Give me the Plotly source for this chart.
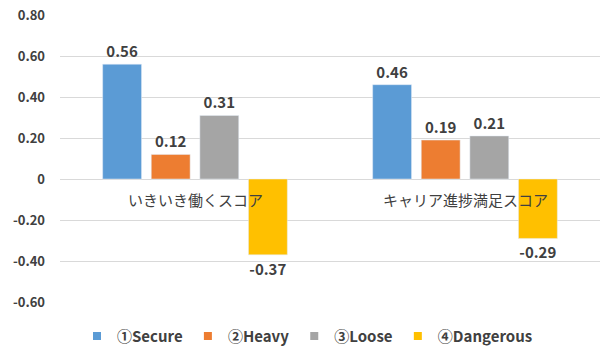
import plotly.graph_objects as go

categories = ["いきいき働くスコア", "キャリア進捗満足スコア"]
series_names = ["①Secure", "②Heavy", "③Loose", "④Dangerous"]
series_values = [
    [0.56, 0.46],
    [0.12, 0.19],
    [0.31, 0.21],
    [-0.37, -0.29],
]
colors = ["#5B9BD5", "#ED7D31", "#A5A5A5", "#FFC000"]
tick_vals = [-0.6, -0.4, -0.2, 0, 0.2, 0.4, 0.6, 0.8]
tick_text = ["-0.60", "-0.40", "-0.20", "0", "0.20", "0.40", "0.60", "0.80"]

FONT = "Noto Sans CJK JP"
TXT = "#404040"

fig = go.Figure()
for name, vals, col in zip(series_names, series_values, colors):
    fig.add_trace(go.Bar(
        x=categories, y=vals, name=name, marker_color=col, showlegend=False,
        legendgroup=name,
        text=[f"{v:.2f}" for v in vals], textposition="outside",
        textfont=dict(family=FONT, size=15, color=TXT),
        texttemplate="<b>%{text}</b>", cliponaxis=False,
    ))
for name, col in zip(series_names, colors):
    fig.add_trace(go.Scatter(
        x=[None], y=[None], mode="markers", name=f"<b>{name}</b>", legendgroup=name,
        marker=dict(symbol="square", size=8, color=col),
    ))

for c in categories:
    fig.add_annotation(x=c, y=0, xref="x", yref="y", text=c, showarrow=False,
                       yanchor="top", yshift=-8,
                       font=dict(family=FONT, size=15, color=TXT))

fig.update_layout(
    width=615, height=352,
    margin=dict(l=60, r=15, t=15, b=50),
    paper_bgcolor="white", plot_bgcolor="white",
    barmode="group", bargap=0.28, bargroupgap=0.2,
    font=dict(family=FONT, color=TXT),
    legend=dict(orientation="h", x=0.5, xanchor="center", xref="container",
                y=0.045, yanchor="middle", yref="container",
                font=dict(family=FONT, size=15, color=TXT),
                itemwidth=30, traceorder="normal", tracegroupgap=0),
    showlegend=True,
)
fig.update_xaxes(showticklabels=False, showgrid=False, zeroline=False, showline=False)
fig.update_yaxes(range=[-0.6, 0.8], tickvals=tick_vals, ticktext=[f"<b>{t}</b>" for t in tick_text],
                 tickfont=dict(family=FONT, size=13, color=TXT),
                 showgrid=True, gridcolor="#D9D9D9", zeroline=True, zerolinecolor="#D9D9D9",
                 zerolinewidth=1, ticks="", ticklabelstandoff=14, automargin=False)

fig.write_html("out.html")
